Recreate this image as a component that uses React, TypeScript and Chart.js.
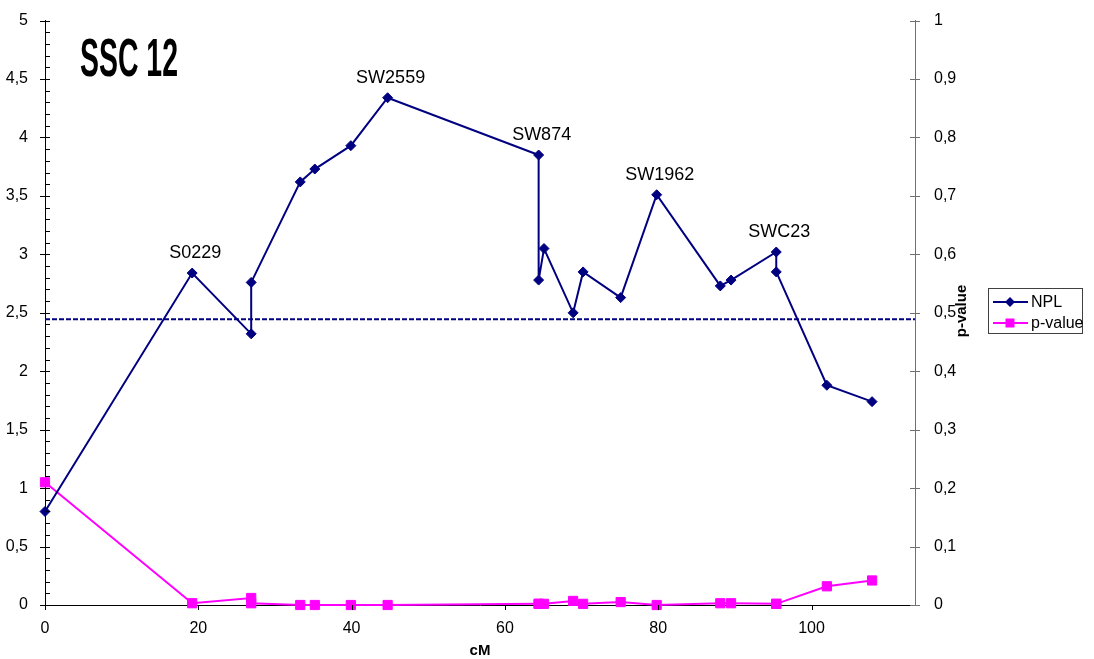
import React, { useEffect, useRef } from 'react';
import { Chart, registerables } from 'chart.js';
Chart.register(...registerables);

// ---- data ----
const cM = [0, 19.2, 26.9, 26.9, 33.3, 35.2, 39.9, 44.7, 64.4, 64.4, 65.1, 68.9, 70.2, 75.1, 79.8, 88.1, 89.5, 95.4, 95.4, 102.0, 107.9];
const npl = [0.80, 2.84, 2.32, 2.76, 3.62, 3.73, 3.93, 4.34, 3.85, 2.78, 3.05, 2.50, 2.85, 2.63, 3.51, 2.73, 2.78, 3.02, 2.85, 1.88, 1.74];
const pValue = [0.21, 0.003, 0.012, 0.003, 0, 0, 0, 0, 0.002, 0.002, 0.002, 0.007, 0.002, 0.005, 0, 0.003, 0.003, 0.002, 0.002, 0.032, 0.042];
const thresholdNPL = 2.445;
const markerIndex = [1, 7, 8, 14, 17];
const markerNames = ['S0229', 'SW2559', 'SW874', 'SW1962', 'SWC23'];
const xTickValues = [0, 20, 40, 60, 80, 100];
const xMax = 113.5;
const chartTitle = 'SSC 12';
const xTitle = 'cM';
const y1Title = 'p-value';
const seriesNames = ['NPL', 'p-value'];

const FONT = '"Liberation Sans", Arial, sans-serif';
const NAVY = '#000080';
const MAGENTA = '#FF00FF';

const commaFmt = (v: number) => String(Number(v.toFixed(2))).replace('.', ',');

export default function App() {
  const ref = useRef<HTMLCanvasElement>(null);
  useEffect(() => {
    document.body.style.margin = '0';
    const canvas = ref.current!;
    const overlay = {
      id: 'overlay',
      afterDraw(chart: any) {
        const c = chart.ctx as CanvasRenderingContext2D;
        const xs = chart.scales.x, ys = chart.scales.y, y1s = chart.scales.y1;
        const { left, right, bottom } = chart.chartArea;
        c.save();
        // left axis ticks (major crossing, minor inside)
        c.strokeStyle = '#000';
        c.lineWidth = 1;
        for (let k = 0; k <= 50; k++) {
          const py = Math.round(ys.getPixelForValue(k / 10)) + 0.5;
          const major = k % 5 === 0;
          c.beginPath();
          c.moveTo(major ? left - 5 : left, py);
          c.lineTo(left + 5, py);
          c.stroke();
        }
        // x ticks
        for (const v of xTickValues) {
          const px = Math.round(xs.getPixelForValue(v)) + 0.5;
          c.beginPath();
          c.moveTo(px, bottom);
          c.lineTo(px, bottom + 5);
          c.stroke();
        }
        // right axis ticks
        c.strokeStyle = '#707070';
        for (let k = 0; k <= 10; k++) {
          const py = Math.round(y1s.getPixelForValue(k / 10)) + 0.5;
          c.beginPath();
          c.moveTo(right - 5, py);
          c.lineTo(right + 5, py);
          c.stroke();
        }
        // marker labels
        c.fillStyle = '#000';
        c.font = `18px ${FONT}`;
        c.textAlign = 'center';
        c.textBaseline = 'alphabetic';
        markerIndex.forEach((idx, i) => {
          const px = xs.getPixelForValue(cM[idx]);
          const py = ys.getPixelForValue(npl[idx]);
          c.fillText(markerNames[i], px + 3, py - 15);
        });
        // title
        c.save();
        c.font = `bold 54px "Liberation Sans Narrow", ${FONT}`;
        c.textAlign = 'left';
        const w = c.measureText(chartTitle).width;
        c.translate(80, 76);
        c.scale(98 / w, 1);
        c.fillText(chartTitle, 0, 0);
        c.restore();
        // axis titles
        c.font = `bold 15px ${FONT}`;
        c.textAlign = 'center';
        c.textBaseline = 'middle';
        c.fillText(xTitle, (left + right) / 2, 651);
        c.save();
        c.translate(962, 311);
        c.rotate(-Math.PI / 2);
        c.fillText(y1Title, 0, 0);
        c.restore();
        // legend
        const bx = 988.5, by = 288.5, bw = 94, bh = 45;
        c.strokeStyle = '#404040';
        c.lineWidth = 1;
        c.strokeRect(bx, by, bw, bh);
        const rows = [302, 323];
        const colors = [NAVY, MAGENTA];
        c.font = `16px ${FONT}`;
        c.textAlign = 'left';
        rows.forEach((ry, i) => {
          c.strokeStyle = colors[i];
          c.fillStyle = colors[i];
          c.lineWidth = 2;
          c.beginPath();
          c.moveTo(993, ry);
          c.lineTo(1028, ry);
          c.stroke();
          c.beginPath();
          if (i === 0) {
            c.moveTo(1010, ry - 5);
            c.lineTo(1015, ry);
            c.lineTo(1010, ry + 5);
            c.lineTo(1005, ry);
            c.closePath();
          } else {
            c.rect(1005.5, ry - 4.5, 9, 9);
          }
          c.fill();
          c.fillStyle = '#000';
          c.fillText(seriesNames[i], 1031, ry + 1);
        });
        c.restore();
      },
    };

    const chart = new Chart(canvas, {
      type: 'line',
      data: {
        datasets: [
          {
            label: seriesNames[0],
            data: cM.map((x, i) => ({ x, y: npl[i] })),
            borderColor: NAVY,
            backgroundColor: NAVY,
            borderWidth: 2,
            pointStyle: 'rectRot',
            pointRadius: 5,
            pointBorderWidth: 1,
            yAxisID: 'y',
            clip: false,
            order: 1,
          },
          {
            label: seriesNames[1],
            data: cM.map((x, i) => ({ x, y: pValue[i] })),
            borderColor: MAGENTA,
            backgroundColor: MAGENTA,
            borderWidth: 2,
            pointStyle: 'rect',
            pointRadius: 6.5,
            pointBorderWidth: 1,
            yAxisID: 'y1',
            clip: false,
            order: 2,
          },
          {
            label: 'threshold',
            data: [{ x: 0, y: thresholdNPL }, { x: xMax, y: thresholdNPL }],
            borderColor: NAVY,
            borderWidth: 2,
            borderDash: [5, 2],
            pointRadius: 0,
            yAxisID: 'y',
            order: 3,
          },
        ],
      },
      options: {
        responsive: false,
        animation: false,
        layout: { padding: { top: 18, left: 0, right: 0, bottom: 0 } },
        plugins: { legend: { display: false }, tooltip: { enabled: false } },
        scales: {
          x: {
            type: 'linear',
            min: 0,
            max: xMax,
            grid: { display: false },
            border: { display: true, color: '#000', width: 1 },
            afterBuildTicks: (s: any) => { s.ticks = xTickValues.map((v) => ({ value: v })); },
            afterFit: (s: any) => { s.height = 54; },
            ticks: { color: '#000', font: { size: 16, family: FONT }, padding: 6, maxRotation: 0 },
          },
          y: {
            type: 'linear',
            position: 'left',
            min: 0,
            max: 5,
            grid: { display: false },
            border: { display: true, color: '#000', width: 1 },
            afterFit: (s: any) => { s.width = 45; },
            ticks: { stepSize: 0.5, color: '#000', font: { size: 16, family: FONT }, padding: 9, callback: (v: any) => commaFmt(Number(v)) },
          },
          y1: {
            type: 'linear',
            position: 'right',
            min: 0,
            max: 1,
            grid: { display: false },
            border: { display: true, color: '#707070', width: 1 },
            afterFit: (s: any) => { s.width = 179; },
            ticks: { stepSize: 0.1, color: '#000', font: { size: 16, family: FONT }, padding: 11, callback: (v: any) => commaFmt(Number(v)) },
          },
        },
      },
      plugins: [overlay],
    });
    return () => chart.destroy();
  }, []);
  return (
    <div style={{ width: 1094, height: 659, background: '#fff' }}>
      <canvas ref={ref} width={1094} height={659} style={{ display: 'block' }} />
    </div>
  );
}
